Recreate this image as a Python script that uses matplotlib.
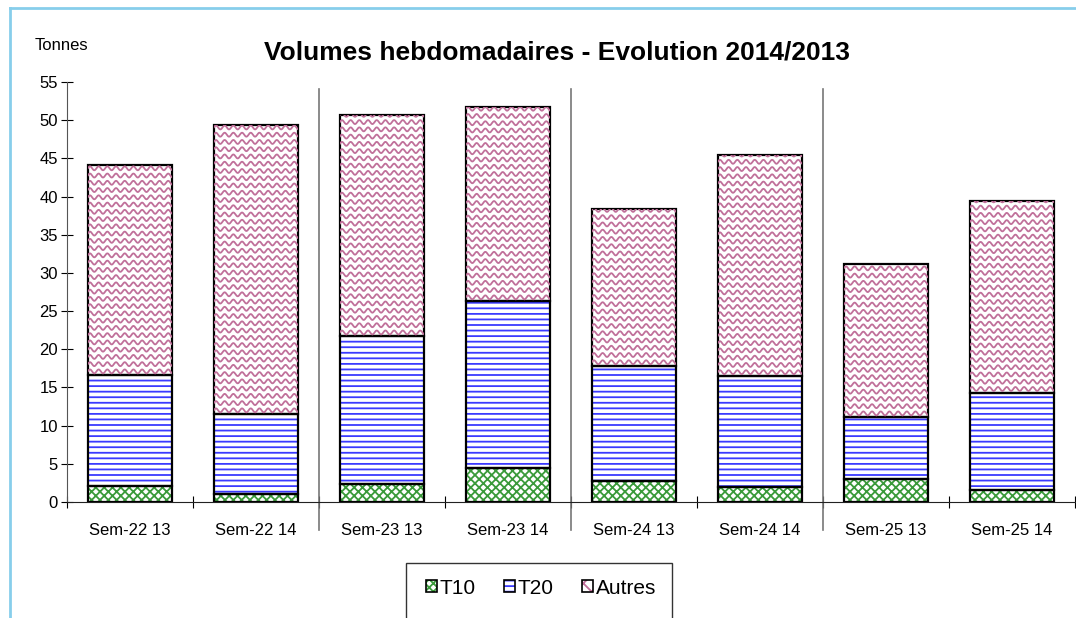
import matplotlib.pyplot as plt
import numpy as np
from matplotlib.lines import Line2D
from matplotlib.patches import Patch, Rectangle
from matplotlib.legend_handler import HandlerTuple

plt.rcParams['font.family'] = ['Liberation Sans', 'DejaVu Sans']
plt.rcParams['hatch.linewidth'] = 1.3

# data (tonnes)
categories = ['Sem-22 13', 'Sem-22 14', 'Sem-23 13', 'Sem-23 14',
              'Sem-24 13', 'Sem-24 14', 'Sem-25 13', 'Sem-25 14']
t10 = [2.1, 1.0, 2.3, 4.4, 2.7, 2.0, 3.0, 1.6]
t20 = [14.5, 10.5, 19.4, 21.9, 15.1, 14.5, 8.1, 12.7]
autres = [27.5, 37.9, 29.0, 25.4, 20.6, 28.9, 20.1, 25.1]
yticks = list(range(0, 60, 5))

fig = plt.figure(figsize=(10.76, 6.18), dpi=100)
ax = fig.add_axes([67/1076, 1-502/618, 1008/1076, 420/618])

x = np.arange(len(categories))
w = 0.67
t10 = np.array(t10)
t20 = np.array(t20)
autres = np.array(autres)
base2 = t10
base3 = t10 + t20

# T10 - green crisscross
ax.bar(x, t10, w, color='white', edgecolor='#3a9a3a', hatch='xxxx', linewidth=0)
# T20 - blue horizontal lines
ax.bar(x, t20, w, bottom=base2, color='white', edgecolor='#3a3aff', hatch='---', linewidth=0)
# Autres - white, waves drawn on top
bars3 = ax.bar(x, autres, w, bottom=base3, color='white', linewidth=0)

# wavy pattern clipped to each Autres bar
for b in bars3:
    x0 = b.get_x()
    y0 = b.get_y()
    hgt = b.get_height()
    xs = np.linspace(x0, x0 + w, 300)
    for yy in np.arange(y0 + 0.5, y0 + hgt + 0.6, 0.95):
        ys = yy + 0.26 * np.sin(2 * np.pi * (xs - x0) / 0.069)
        ln = Line2D(xs, ys, color='#c0709a', lw=1.3)
        ax.add_line(ln)
        ln.set_clip_path(b)

# black outlines
for bottom, vals in [(0, t10), (base2, t20), (base3, autres)]:
    ax.bar(x, vals, w, bottom=bottom, fill=False, edgecolor='black', linewidth=1.6)

ax.set_xlim(-0.5, len(categories) - 0.5)
ax.set_ylim(0, 55)
ax.set_yticks(yticks)
ax.set_xticks(x)
ax.set_xticklabels(categories, fontsize=12)
ax.set_xticks(np.arange(-0.5, len(categories), 1), minor=True)
ax.tick_params(axis='x', which='major', length=0, pad=15)
ax.tick_params(axis='x', which='minor', direction='inout', length=9, width=0.8)
ax.tick_params(axis='y', direction='inout', length=9, width=0.8, labelsize=12, pad=2)
for s in ['top', 'right']:
    ax.spines[s].set_visible(False)
ax.spines['left'].set_color('#555555')
ax.spines['bottom'].set_color('#222222')

# group separators
for sx in [1.5, 3.5, 5.5]:
    ax.plot([sx, sx], [54.1, -3.7], color='#777777', lw=1.2, clip_on=False)

fig.text(557/1076, 1-52/618, 'Volumes hebdomadaires - Evolution 2014/2013',
         ha='center', va='center', fontsize=19, fontweight='bold')
fig.text(35/1076, 1-46/618, 'Tonnes', ha='left', va='center', fontsize=12)

# legend
def handle(col, hatch):
    return (Patch(facecolor='white', edgecolor=col, hatch=hatch, linewidth=0),
            Patch(fill=False, edgecolor='black', linewidth=1.2))

handles = [handle('#3a9a3a', 'xxxx'), handle('#3a3aff', '---'), handle('#c0709a', 'xx')]
leg = fig.legend(handles, ['T10', 'T20', 'Autres'], loc='center',
                 bbox_to_anchor=(541/1076, 1-588/618), ncol=3, fontsize=15,
                 frameon=False, handlelength=0.55, handleheight=0.55,
                 handletextpad=0.12, columnspacing=1.35,
                 handler_map={tuple: HandlerTuple(ndivide=1, pad=0)})
fig.add_artist(Rectangle((406/1076, -0.05), 266/1076, (1-563/618) + 0.05,
                         transform=fig.transFigure, fill=False,
                         edgecolor='#333333', lw=1))

# outer light blue border
fig.add_artist(Line2D([10/1076, 10/1076], [0, 1-8/618], color='#87ceeb', lw=2,
                      transform=fig.transFigure))
fig.add_artist(Line2D([10/1076, 1], [1-8/618, 1-8/618], color='#87ceeb', lw=2,
                      transform=fig.transFigure))

fig.savefig('out.png', dpi=100)
